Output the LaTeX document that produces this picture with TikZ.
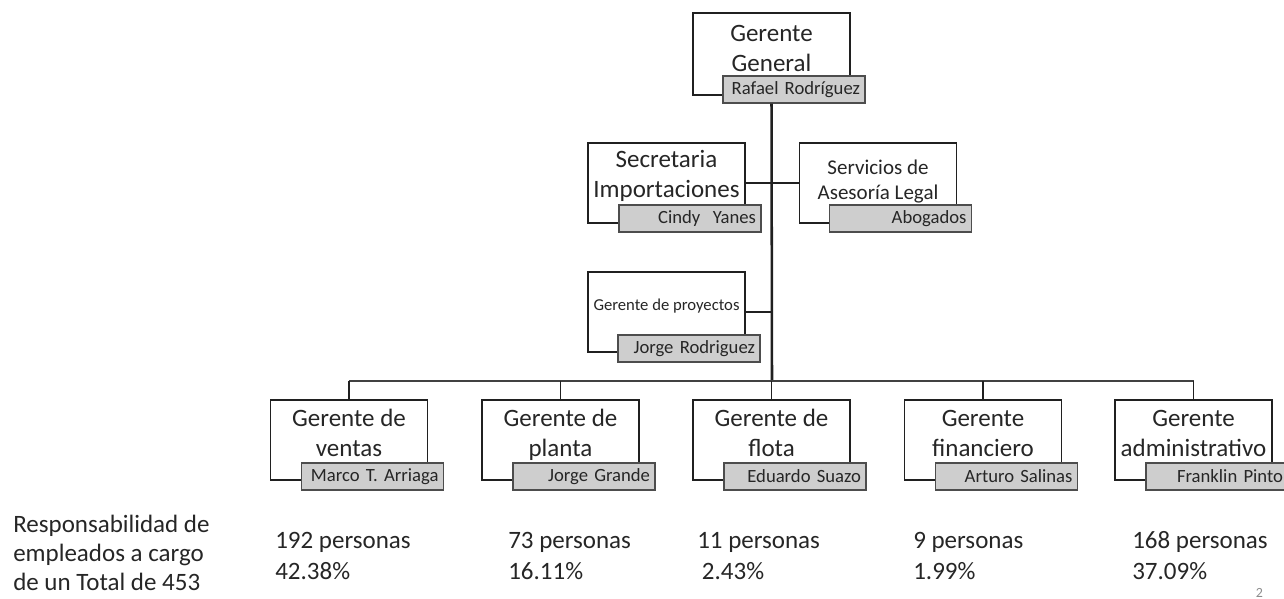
\documentclass[tikz,border=0pt]{standalone}
\usepackage{fontspec}
\setmainfont{Carlito}
\usepackage{tikz}
\usetikzlibrary{positioning,calc}

\definecolor{texto}{HTML}{262626}
\definecolor{relleno}{HTML}{CECECE}
\definecolor{borde}{HTML}{202020}

\newcommand{\fuenteG}{\fontsize{18.75}{22.5}\selectfont}
\newcommand{\fuenteS}{\fontsize{15.75}{18.5}\selectfont}
\newcommand{\fuenteP}{\fontsize{12.5}{15}\selectfont}
\newcommand{\fuenteN}{\fontsize{14}{17}\selectfont}

\tikzset{
  caja/.style={draw=borde, line width=1.1pt, fill=white, inner sep=0,
    minimum width=117.75pt, minimum height=60pt},
  nombre/.style={draw=borde!80, line width=1.1pt, fill=relleno, inner xsep=3.75pt,
    inner ysep=0, text width=99pt, align=right, minimum height=20.25pt,
    font=\fuenteN, text=texto},
  titulo/.style={inner sep=0, align=center, font=\fuenteG, text=texto},
  linea/.style={draw=borde, line width=1.1pt},
}

\begin{document}
\begin{tikzpicture}[x=0.75pt, y=-0.75pt]
\useasboundingbox (0,0) rectangle (1284,599);

% gerente general
\node[caja, minimum height=61.5pt] (gg) at (771.5,54) {};
\node[nombre, anchor=south west] (ggn) at ([xshift=22.5pt, yshift=-6pt]gg.south west) {\mbox{Rafael Rodríguez}};
\node[titulo, anchor=base] (ggt) at ([yshift=-44.25pt]gg.north) {Gerente\\General};

% staff
\node[caja] (sec) at (666.5,183) {};
\node[nombre, anchor=south west] (secn) at ([xshift=23.25pt, yshift=-6.75pt]sec.south west) {\mbox{Cindy\ \ Yanes}};
\node[titulo, anchor=base] (sect) at ([yshift=-41.25pt]sec.north) {Secretaria\\Importaciones};

\node[caja] (leg) at (878,183) {};
\node[nombre, anchor=south west] (legn) at ([xshift=22.5pt, yshift=-6.75pt]leg.south west) {\mbox{Abogados}};
\node[titulo, anchor=base, font=\fuenteS] (legt) at ([yshift=-42.75pt]leg.north) {Servicios de\\Asesoría Legal};

\node[caja] (proy) at (666.5,312) {};
\node[nombre, anchor=south west] (proyn) at ([xshift=22.5pt, yshift=-7.5pt]proy.south west) {\mbox{Jorge Rodriguez}};
\node[titulo, anchor=base, font=\fuenteP] (proyt) at ([yshift=-29.25pt]proy.north) {Gerente de proyectos};

% gerencias
\foreach \n/\cx/\tit/\per in {ventas/349/{Gerente de\\ventas}/{Marco T. Arriaga},
    planta/560.5/{Gerente de\\planta}/{Jorge Grande},
    flota/771.5/{Gerente de\\flota}/{Eduardo Suazo},
    fin/983/{Gerente\\financiero}/{Arturo Salinas},
    adm/1193.5/{Gerente\\administrativo}/{Franklin Pinto}}{
  \node[caja] (\n) at (\cx,440) {};
  \node[nombre, anchor=south west] (\n n) at ([xshift=23.25pt, yshift=-7.5pt]\n.south west) {\mbox{\per}};
  \node[titulo, anchor=base] (\n t) at ([yshift=-42.75pt]\n.north) {\tit};
}

% conectores
\coordinate (bus) at (772,381);
\draw[linea, line width=1.9pt] (gg.center |- ggn.south) -- (bus);
\draw[linea, line width=1.5pt, draw=borde!85] (bus -| ventas.north) -- (bus -| adm.north);
\foreach \n in {ventas,planta,flota,fin,adm}
  \draw[linea] (bus -| \n.north) -- (\n.north);
\draw[linea] (sec.east) -- (leg.west);
\draw[linea] (proy.east) -- (proy.east -| gg.center);

% responsabilidad
\node[anchor=base west, inner sep=0, align=left, text=texto,
  font=\fontsize{18.75}{21.4}\selectfont] (resp) at (13,590)
  {Responsabilidad de\\empleados a cargo\\de un Total de 453};
\foreach \i/\px/\per/\pct in {1/275/192 personas/42.38\%,
    2/508/73 personas/16.11\%,
    3/697/11 personas/\hspace*{3.5pt}2.43\%,
    4/913/9 personas/1.99\%,
    5/1132/168 personas/37.09\%}
  \node[anchor=base west, inner sep=0, align=left, text=texto,
    font=\fontsize{18.75}{23.25}\selectfont] (p\i) at (\px,579) {\per\\\pct};

\node[anchor=base, inner sep=0, text=black!45, font=\fontsize{10.5}{12}\selectfont] (pag) at (1259.5,597) {2};
\end{tikzpicture}
\end{document}
